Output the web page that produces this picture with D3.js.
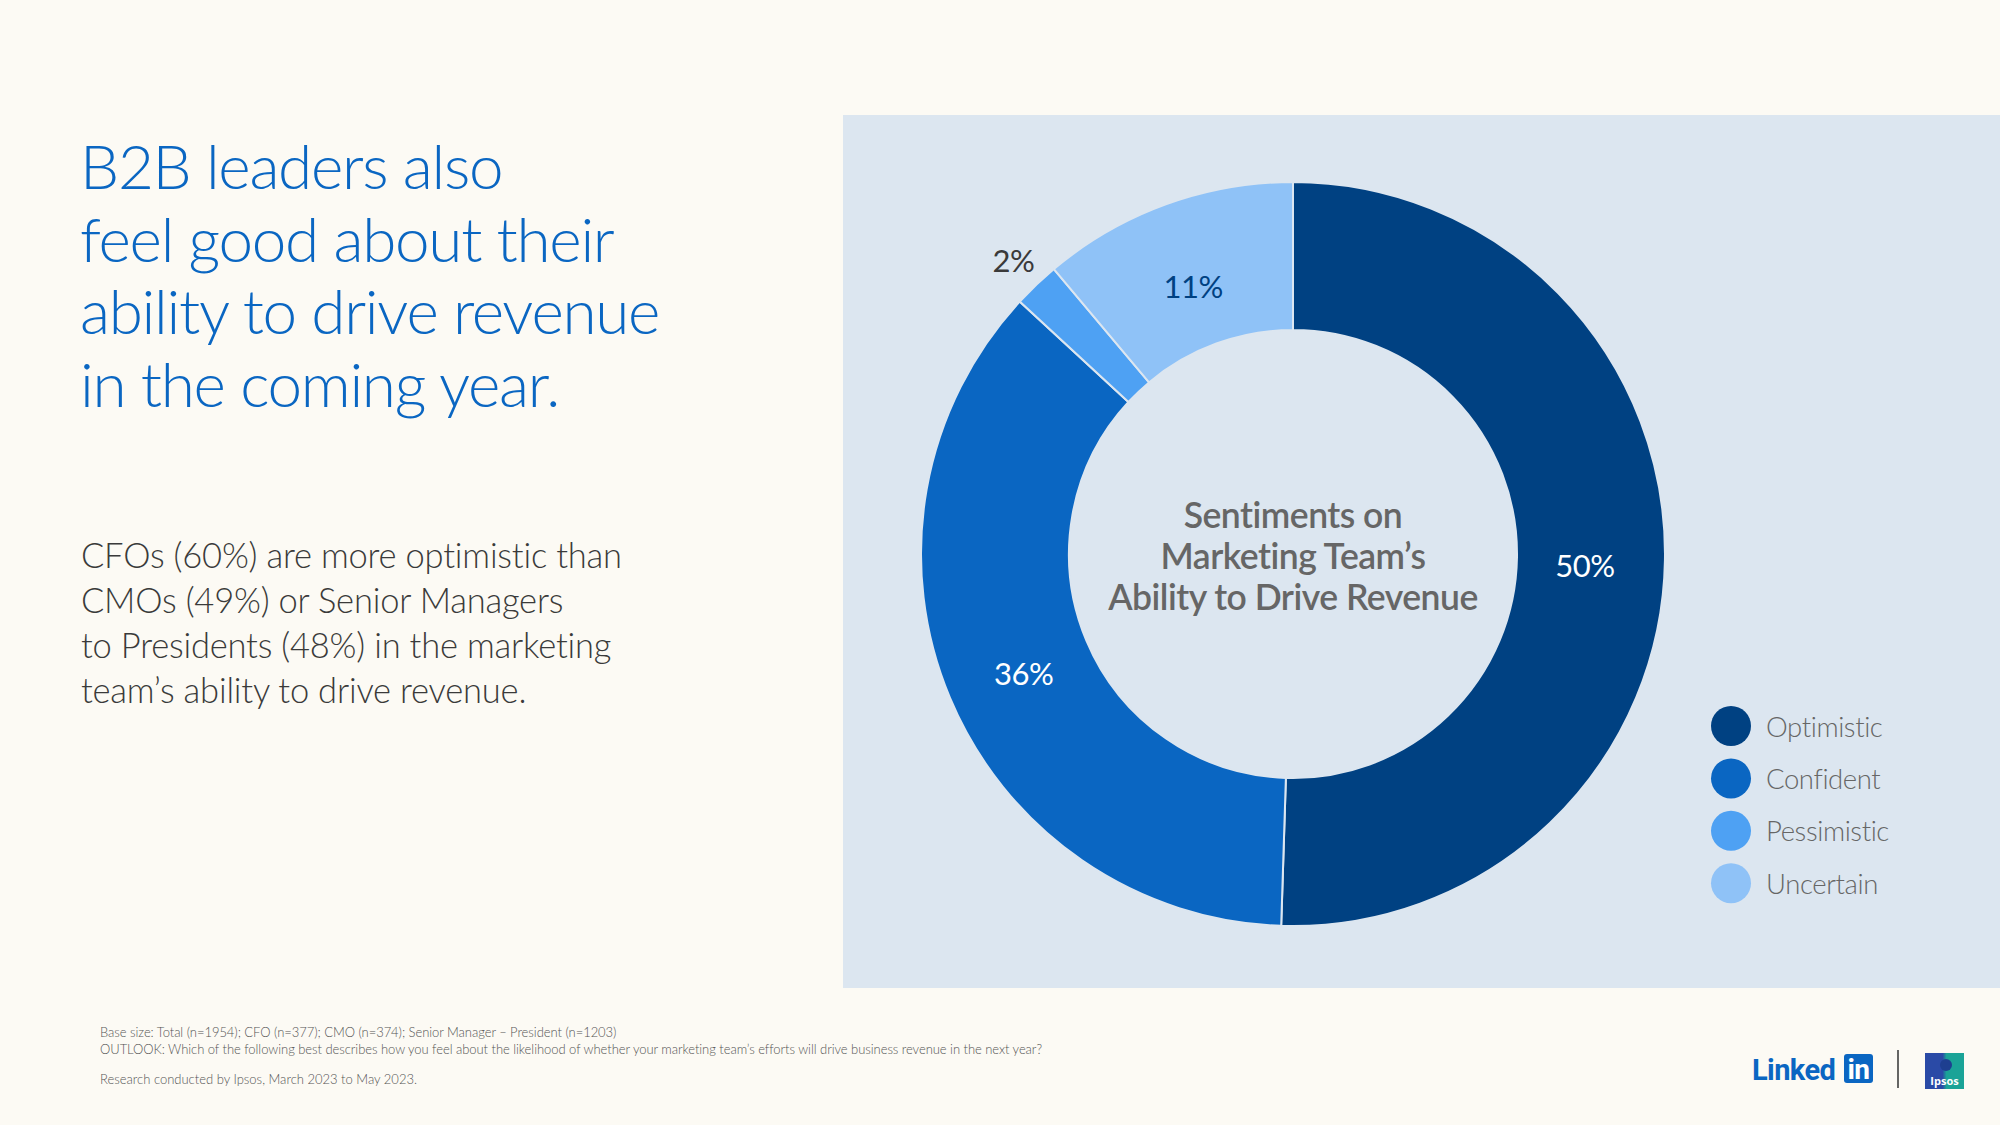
<!DOCTYPE html>
<html><head><meta charset="utf-8">
<script src="https://cdn.jsdelivr.net/npm/d3@7"></script>
<style>
html,body{margin:0;padding:0;background:#fcfaf4;}
svg{display:block;}
</style></head>
<body>
<svg id="chart" width="2000" height="1125"></svg>
<script>
const categories = ["Optimistic", "Confident", "Pessimistic", "Uncertain"];
const values = [50, 36, 2, 11];
const valueLabels = ["50%", "36%", "2%", "11%"];
const titleLines = ["B2B leaders also", "feel good about their", "ability to drive revenue", "in the coming year."];
const bodyLines = ["CFOs (60%) are more optimistic than", "CMOs (49%) or Senior Managers", "to Presidents (48%) in the marketing", "team’s ability to drive revenue."];
const centerLines = ["Sentiments on", "Marketing Team’s", "Ability to Drive Revenue"];
const footLines = ["Base size: Total (n=1954); CFO (n=377); CMO (n=374); Senior Manager – President (n=1203)",
  "OUTLOOK: Which of the following best describes how you feel about the likelihood of whether your marketing team’s efforts will drive business revenue in the next year?"];
const footNote = "Research conducted by Ipsos, March 2023 to May 2023.";

const sliceColors = ["#004182", "#0a66c2", "#4ea1f3", "#8fc2f7"];
const labelColors = ["#ffffff", "#ffffff", "#3a3a3a", "#004182"];

const svg = d3.select("#chart");
const font = "Lato, 'Open Sans', sans-serif";

svg.append("rect").attr("width", 2000).attr("height", 1125).attr("fill", "#fcfaf4");
svg.append("rect").attr("x", 843).attr("y", 115).attr("width", 1157).attr("height", 873).attr("fill", "#dce6f0");

svg.append("g").selectAll("text").data(titleLines).join("text")
  .attr("x", 80).attr("y", (d, i) => 189 + i * 72.5)
  .attr("font-family", font).attr("font-weight", 300).attr("font-size", 62)
  .attr("fill", "#0a66c2").attr("letter-spacing", -1.3).text(d => d);

svg.append("g").selectAll("text").data(bodyLines).join("text")
  .attr("x", 81).attr("y", (d, i) => 568 + i * 45)
  .attr("font-family", font).attr("font-weight", 300).attr("font-size", 34.5)
  .attr("fill", "#3a3a3a").attr("letter-spacing", -0.2).text(d => d);

const cx = 1293, cy = 554, rOuter = 372, rInner = 224;
const color = d3.scaleOrdinal().domain(categories).range(sliceColors);
const pie = d3.pie().sort(null).value(d => d.value);
const data = categories.map((c, i) => ({ name: c, value: values[i], label: valueLabels[i], lc: labelColors[i] }));
const arcs = pie(data);
const arc = d3.arc().innerRadius(rInner).outerRadius(rOuter);
const labelArc = d3.arc().innerRadius(rInner - 6).outerRadius(rOuter - 6);
const g = svg.append("g").attr("transform", `translate(${cx},${cy})`);
g.selectAll("path").data(arcs).join("path")
  .attr("d", arc).attr("fill", d => color(d.data.name))
  .attr("stroke", "#dce6f0").attr("stroke-width", 2);

const outerArc = d3.arc().innerRadius(rOuter + 33).outerRadius(rOuter + 33);
g.selectAll("text.val").data(arcs).join("text").attr("class", "val")
  .attr("transform", d => `translate(${(d.data.value < 5 ? outerArc : labelArc).centroid(d)})`)
  .attr("text-anchor", "middle").attr("dy", d => d.data.value < 5 ? "0.35em" : "0.6em")
  .attr("font-family", font).attr("font-weight", 400).attr("font-size", 31)
  .attr("fill", d => d.data.lc).attr("letter-spacing", -0.5).text(d => d.data.label);

g.selectAll("text.ctr").data(centerLines).join("text").attr("class", "ctr")
  .attr("x", 0).attr("y", (d, i) => -26 + i * 41)
  .attr("text-anchor", "middle")
  .attr("font-family", font).attr("font-weight", 600).attr("font-size", 35.5)
  .attr("fill", "#666666").attr("letter-spacing", -0.5).text(d => d);

const leg = svg.append("g").selectAll("g").data(categories).join("g")
  .attr("transform", (d, i) => `translate(1731,${726 + i * 52.4})`);
leg.append("circle").attr("r", 20).attr("fill", d => color(d));
leg.append("text").attr("x", 35).attr("y", 0).attr("dominant-baseline", "central")
  .attr("font-family", font).attr("font-weight", 300).attr("font-size", 27.5)
  .attr("fill", "#666666").attr("letter-spacing", -0.4).text(d => d);

svg.append("g").selectAll("text").data(footLines).join("text")
  .attr("x", 100).attr("y", (d, i) => 1037 + i * 16.5)
  .attr("font-family", font).attr("font-weight", 300).attr("font-size", 13)
  .attr("fill", "#555").attr("letter-spacing", -0.05).text(d => d);
svg.append("text").attr("x", 100).attr("y", 1084)
  .attr("font-family", font).attr("font-weight", 300).attr("font-size", 13)
  .attr("fill", "#555").text(footNote);

const lg = svg.append("g");
lg.append("text").attr("x", 1752).attr("y", 1080)
  .attr("font-family", "Roboto, sans-serif").attr("font-weight", 700).attr("font-size", 29)
  .attr("fill", "#0a66c2").attr("letter-spacing", -0.6).text("Linked");
lg.append("rect").attr("x", 1844).attr("y", 1054).attr("width", 29).attr("height", 29).attr("rx", 3).attr("fill", "#0a66c2");
lg.append("text").attr("x", 1858.5).attr("y", 1079).attr("text-anchor", "middle")
  .attr("font-family", "Roboto, sans-serif").attr("font-weight", 700).attr("font-size", 28)
  .attr("fill", "#fff").attr("letter-spacing", -0.6).text("in");
lg.append("line").attr("x1", 1898).attr("x2", 1898).attr("y1", 1050).attr("y2", 1088).attr("stroke", "#333").attr("stroke-width", 1.5);
const grad = svg.append("defs").append("linearGradient").attr("id", "ip").attr("x1", 0).attr("x2", 1);
grad.append("stop").attr("offset", "0.45").attr("stop-color", "#2a4aa6");
grad.append("stop").attr("offset", "0.55").attr("stop-color", "#1aa397");
lg.append("rect").attr("x", 1925).attr("y", 1053).attr("width", 39).attr("height", 36).attr("fill", "url(#ip)");
lg.append("circle").attr("cx", 1946).attr("cy", 1065).attr("r", 6).attr("fill", "#1e3f90");
lg.append("text").attr("x", 1944.5).attr("y", 1085).attr("text-anchor", "middle")
  .attr("font-family", "'Open Sans', sans-serif").attr("font-weight", 700).attr("font-size", 11)
  .attr("fill", "#fff").text("Ipsos");
</script>
</body></html>
